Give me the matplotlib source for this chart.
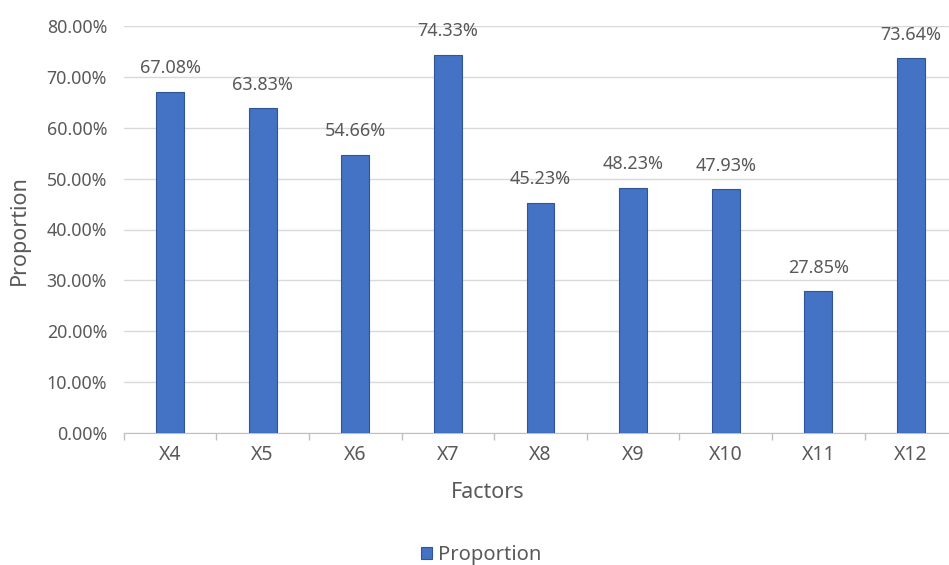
import matplotlib
matplotlib.use("Agg")
import numpy as np
from matplotlib import pyplot as plt
from matplotlib.ticker import FuncFormatter

factors = ["X4", "X5", "X6", "X7", "X8", "X9", "X10", "X11", "X12"]
proportion = [67.08, 63.83, 54.66, 74.33, 45.23, 48.23, 47.93, 27.85, 73.64]
yticks = [0, 10, 20, 30, 40, 50, 60, 70, 80]

txt = "#595959"
plt.rcParams["font.family"] = ["Noto Sans", "DejaVu Sans"]

fig = plt.figure(figsize=(9.49, 5.65), dpi=100)
ax = fig.add_axes([123.7 / 949, 1 - 433 / 565, 1 - 123.7 / 949, (433 - 26) / 565])

x = np.arange(len(factors))
bars = ax.bar(x, proportion, width=0.3, color="#4472C4", edgecolor="#2F5597",
              linewidth=0.8, label="Proportion", zorder=3)

for xi, v in zip(x, proportion):
    ax.annotate(f"{v:.2f}%", (xi, v), xytext=(0, 17), textcoords="offset points",
                ha="center", va="center", fontsize=13, color=txt)

ax.set_ylim(0, 80)
ax.set_xlim(-0.5, 8.5 - 8.3 / 92.6)
ax.set_yticks(yticks)
ax.yaxis.set_major_formatter(FuncFormatter(lambda v, p: f"{v:.2f}%"))
ax.grid(axis="y", color="#D9D9D9", linewidth=1, zorder=0)

# category ticks sit between bars
ax.set_xticks(x)
ax.set_xticklabels(factors)
ax.set_xticks(np.arange(len(factors)) - 0.5, minor=True)
ax.tick_params(axis="x", which="major", length=0, pad=9, labelsize=14, labelcolor=txt)
ax.tick_params(axis="x", which="minor", length=5, color="#BFBFBF", width=1)
ax.tick_params(axis="y", length=0, pad=12, labelsize=12.8, labelcolor=txt)

for s in ["top", "right", "left"]:
    ax.spines[s].set_visible(False)
ax.spines["bottom"].set_color("#BFBFBF")

fig.text(488 / 949, 1 - 492 / 565, "Factors", fontsize=15.5, color=txt,
         ha="center", va="center")
fig.text(19 / 949, 1 - 230 / 565, "Proportion", fontsize=15.5, color=txt,
         ha="center", va="center", rotation=90)

fig.legend(handles=[bars], labels=["Proportion"], loc="center",
           bbox_to_anchor=(481 / 949, 1 - 555 / 565), frameon=False,
           fontsize=14.5, handlelength=0.55, handleheight=0.55, handletextpad=0.3,
           labelcolor=txt)

fig.savefig("out.png", dpi=100)
